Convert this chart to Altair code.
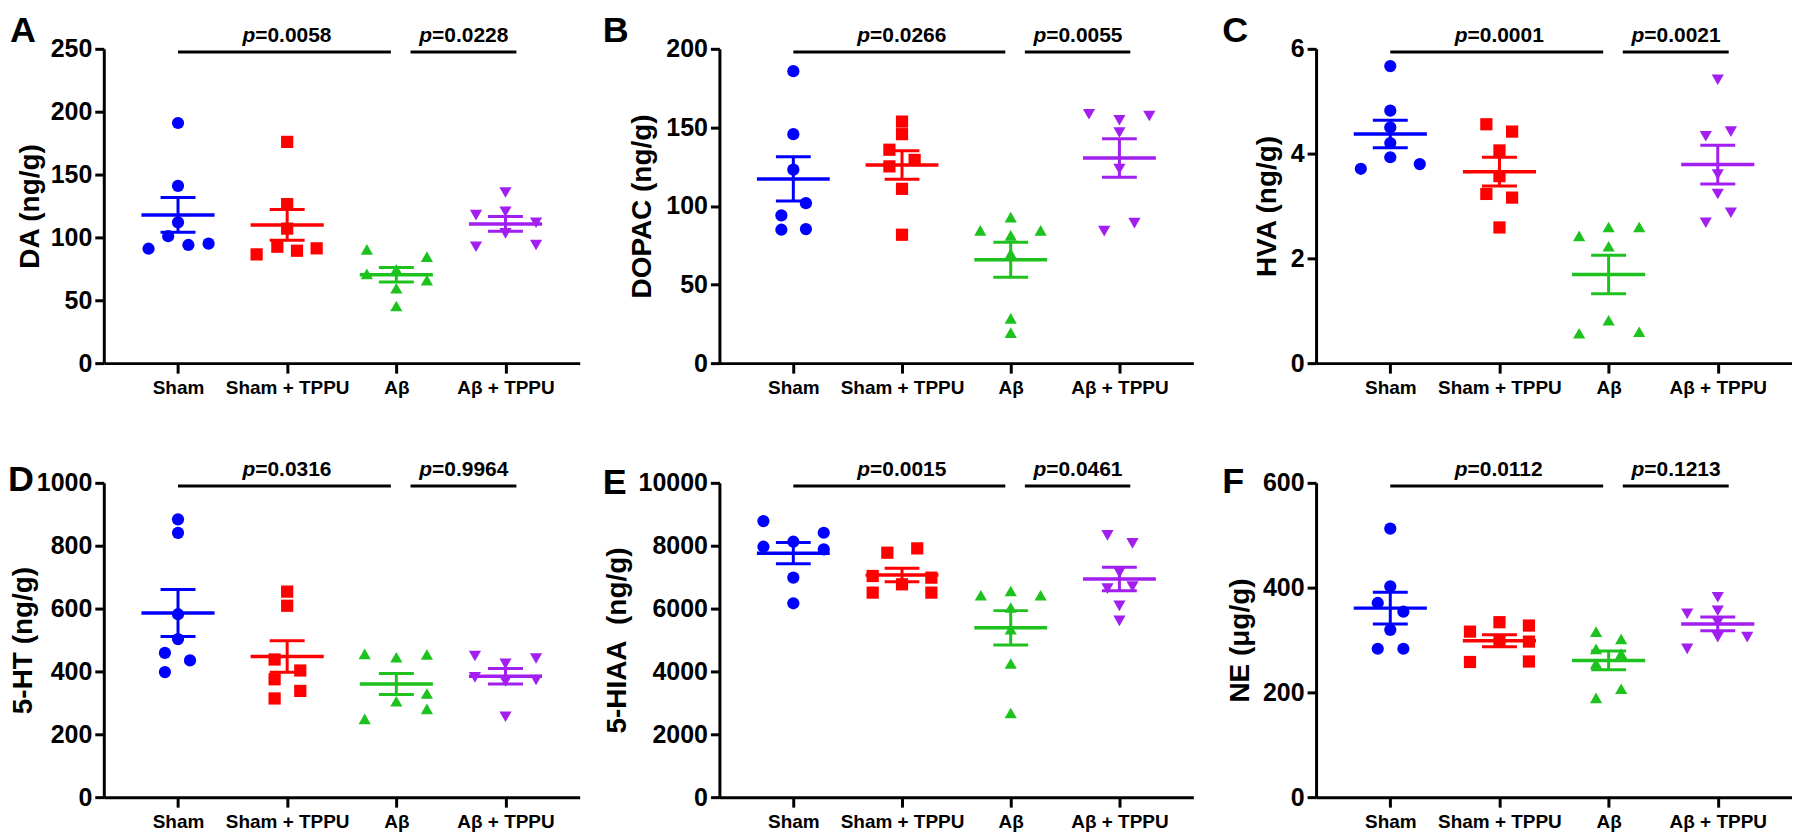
import json
import altair as alt
import pandas as pd

GROUPS = ["Sham", "Sham + TPPU", "Aβ", "Aβ + TPPU"]
COLORS = ["#0000ff", "#ff0000", "#1ec21e", "#a21ff0"]
SHAPES = ["circle", "square", "triangle-up", "triangle-down"]

PANEL_LETTERS = ["A", "B", "C", "D", "E", "F"]
Y_TITLES = ["DA (ng/g)", "DOPAC (ng/g)", "HVA (ng/g)", "5-HT (ng/g)",
            "5-HIAA\u00a0 (ng/g)", "NE (μg/g)"]
Y_MAX = [250, 200, 6, 1000, 10000, 600]
Y_STEP = [50, 50, 2, 200, 2000, 200]
P_LEFT = ["0.0058", "0.0266", "0.0001", "0.0316", "0.0015", "0.0112"]
P_RIGHT = ["0.0228", "0.0055", "0.0021", "0.9964", "0.0461", "0.1213"]

# values per group (Sham, Sham + TPPU, Aβ, Aβ + TPPU) and horizontal spread (category units)
A_values = [[191, 141, 112, 101, 91, 94, 95],
            [176, 126.5, 107, 86.5, 92.6, 89.4, 91.3],
            [90.5, 71, 74.6, 59.5, 45.5, 84.7, 66],
            [135.7, 117.7, 120.4, 103.2, 92.6, 111.6, 94]]
A_spread = [[0, 0, 0, -0.09, -0.27, 0.095, 0.28],
            [0, 0, 0, -0.28, -0.09, 0.09, 0.27],
            [-0.27, -0.27, 0, 0, 0, 0.28, 0.28],
            [0, -0.27, 0, 0, -0.27, 0.28, 0.28]]

B_values = [[185.8, 145.7, 123.1, 101.8, 94, 84.9, 85.3],
            [153.7, 145.7, 135.8, 129.3, 125.2, 110.9, 81.7],
            [92.9, 84.5, 84.5, 81.3, 69.7, 28.5, 19.4],
            [158.4, 157.3, 154.6, 146.8, 123.5, 89.1, 84]]
B_spread = [[0, 0, 0, 0.116, -0.11, -0.11, 0.116],
            [0, 0, -0.116, 0.116, -0.116, 0, 0],
            [0, -0.28, 0.275, 0, 0, 0, 0],
            [-0.28, 0.275, 0, 0, 0, 0.138, -0.14]]

C_values = [[5.67, 4.82, 4.50, 4.20, 3.93, 3.71, 3.80],
            [4.56, 4.42, 4.06, 3.57, 3.23, 3.16, 2.59],
            [2.43, 2.60, 2.60, 2.23, 0.82, 0.57, 0.60],
            [5.41, 4.33, 4.42, 3.60, 3.23, 2.68, 2.87]]
C_spread = [[0, 0, 0, 0, 0, -0.27, 0.27],
            [-0.12, 0.116, 0, 0, -0.12, 0.116, 0],
            [-0.27, 0, 0.28, 0, 0, -0.27, 0.28],
            [0, -0.11, 0.12, 0, 0, -0.11, 0.12]]

D_values = [[884, 841, 582, 503, 459, 435, 398],
            [654, 609, 438, 403, 375, 338, 314],
            [456, 445, 454, 330, 305, 281, 249],
            [449, 441, 424, 381, 373, 368, 256]]
D_spread = [[0, 0, 0, 0, -0.12, 0.11, -0.12],
            [0, 0, -0.115, 0.12, -0.115, 0.12, -0.115],
            [-0.29, 0, 0.28, 0.28, 0, 0.28, -0.29],
            [-0.28, 0.28, 0, -0.28, 0.28, 0, 0]]

E_values = [[8783, 8413, 8127, 7968, 7884, 6984, 6169],
            [7915, 7778, 7037, 6508, 6984, 6508, 6772],
            [6423, 6423, 6561, 6032, 5344, 4254, 2677],
            [8328, 8074, 7143, 6635, 6698, 6085, 5608]]
E_spread = [[-0.275, 0.28, 0, -0.275, 0.28, 0, 0],
            [0.14, -0.135, -0.27, -0.27, 0.27, 0.27, 0],
            [-0.275, 0.275, 0, 0, 0, 0, 0],
            [-0.11, 0.12, 0, -0.11, 0.12, 0, 0]]

F_values = [[512.7, 402.4, 370.7, 354.2, 319.4, 283.3, 283.3],
            [334, 316, 327.6, 299, 297, 258, 259],
            [316, 302, 283, 274, 255, 207, 189.5],
            [381.5, 356, 350, 334, 305.5, 305.5, 283]]
F_spread = [[0, 0, -0.115, 0.12, 0, -0.115, 0.12],
            [0, -0.27, 0.27, 0, 0.27, -0.27, 0.27],
            [-0.115, 0.115, -0.115, 0.115, -0.115, 0.115, -0.115],
            [0, 0, -0.28, 0, 0, 0.27, -0.28]]

VALUES = [A_values, B_values, C_values, D_values, E_values, F_values]
SPREAD = [A_spread, B_spread, C_spread, D_spread, E_spread, F_spread]

FONT = "Liberation Sans"
PANEL_W = [477, 475, 477, 477, 475, 477]
PANEL_H = 315
LETTER_DX = [-94, -117, -94, -96, -117, -94]
LETTER_DY = [-7, -7, -7, 8, 11, 10]
TITLE_X = [-73, -77, -49, -80, -102, -76]

label_expr = json.dumps(GROUPS) + "[datum.value]"


def make_panel(k):
    rows = []
    for gi, (vals, offs) in enumerate(zip(VALUES[k], SPREAD[k])):
        for v, o in zip(vals, offs):
            rows.append({"group": GROUPS[gi], "gi": gi, "value": v, "off": o})
    df = pd.DataFrame(rows)
    ymax = Y_MAX[k]

    xs = alt.Scale(domain=[-0.68, 3.68], nice=False, zero=False)
    ys = alt.Scale(domain=[0, ymax], nice=False)
    xaxis = alt.Axis(values=[0, 1, 2, 3], labelExpr=label_expr, title=None,
                     tickSize=10, labelFontSize=19, labelPadding=5,
                     labelOverlap=False, labelFlush=False)
    yaxis = alt.Axis(values=list(range(0, ymax + 1, Y_STEP[k])), format="d",
                     title=Y_TITLES[k], tickSize=9, labelFontSize=25,
                     labelPadding=3, titleFontSize=28, titleX=TITLE_X[k],
                     titleBaseline="middle")
    color = alt.Color("group:N", scale=alt.Scale(domain=GROUPS, range=COLORS),
                      legend=None)

    base = alt.Chart(df)
    pts = base.transform_calculate(xp="datum.gi + datum.off").mark_point(
        filled=True, size=150, opacity=1).encode(
        x=alt.X("xp:Q", scale=xs, axis=xaxis),
        y=alt.Y("value:Q", scale=ys, axis=yaxis),
        color=color,
        shape=alt.Shape("group:N", scale=alt.Scale(domain=GROUPS, range=SHAPES),
                        legend=None),
    )

    stats = base.transform_aggregate(
        m="mean(value)", se="stderr(value)", groupby=["group", "gi"]
    ).transform_calculate(
        lo="datum.m - datum.se", hi="datum.m + datum.se",
        ml="datum.gi - 0.335", mr="datum.gi + 0.335",
        cl="datum.gi - 0.16", cr="datum.gi + 0.16",
    )
    mean_r = stats.mark_rule(strokeWidth=3.5).encode(
        x=alt.X("ml:Q", scale=xs, axis=xaxis), x2="mr:Q",
        y=alt.Y("m:Q", scale=ys, axis=yaxis), color=color)
    sem_v = stats.mark_rule(strokeWidth=3).encode(
        x=alt.X("gi:Q", scale=xs, axis=xaxis),
        y=alt.Y("lo:Q", scale=ys, axis=yaxis), y2="hi:Q", color=color)
    cap_hi = stats.mark_rule(strokeWidth=3).encode(
        x=alt.X("cl:Q", scale=xs, axis=xaxis), x2="cr:Q",
        y=alt.Y("hi:Q", scale=ys, axis=yaxis), color=color)
    cap_lo = stats.mark_rule(strokeWidth=3).encode(
        x=alt.X("cl:Q", scale=xs, axis=xaxis), x2="cr:Q",
        y=alt.Y("lo:Q", scale=ys, axis=yaxis), color=color)

    pdf = pd.DataFrame({
        "x1": [0, 2.13], "x2": [1.95, 3.1],
        "yl": [0.99 * ymax] * 2,
        "xc": [1.0, 2.62], "yt": [1.022 * ymax] * 2,
        "p": ["p", "p"],
        "val": ["=" + P_LEFT[k], "=" + P_RIGHT[k]],
    })
    pb = alt.Chart(pdf)
    plines = pb.mark_rule(strokeWidth=3, color="black").encode(
        x=alt.X("x1:Q", scale=xs, axis=xaxis), x2="x2:Q",
        y=alt.Y("yl:Q", scale=ys, axis=yaxis))
    ptxt = pb.mark_text(fontSize=21, fontWeight="bold", fontStyle="italic",
                        align="right", baseline="alphabetic", dx=-32,
                        color="black", font=FONT).encode(
        x=alt.X("xc:Q", scale=xs, axis=xaxis),
        y=alt.Y("yt:Q", scale=ys, axis=yaxis), text="p:N")
    vtxt = pb.mark_text(fontSize=21, fontWeight="bold", align="left",
                        baseline="alphabetic", dx=-32, color="black",
                        font=FONT).encode(
        x=alt.X("xc:Q", scale=xs, axis=xaxis),
        y=alt.Y("yt:Q", scale=ys, axis=yaxis), text="val:N")

    letter = alt.Chart(pd.DataFrame({"t": [PANEL_LETTERS[k]]})).mark_text(
        fontSize=36, fontWeight="bold", align="left", baseline="alphabetic",
        color="black", font=FONT).encode(
        x=alt.value(LETTER_DX[k]), y=alt.value(LETTER_DY[k]), text="t:N")

    return alt.layer(pts, mean_r, sem_v, cap_hi, cap_lo, plines, ptxt, vtxt,
                     letter).properties(width=PANEL_W[k], height=PANEL_H)


def spacer(w):
    return alt.Chart(pd.DataFrame({"a": [0]})).mark_point(opacity=0).encode(
        x=alt.value(0), y=alt.value(0)).properties(width=w, height=PANEL_H)


panels = [make_panel(k) for k in range(6)]
cells = [panels[0], spacer(140), panels[1], spacer(123), panels[2],
         panels[3], spacer(140), panels[4], spacer(123), panels[5]]

chart = alt.concat(*cells, columns=5, spacing={"row": 120, "column": 0},
                   bounds="flush", align="each").properties(
    padding={"left": 0, "top": 4, "right": 0, "bottom": 0}
).configure(font=FONT).configure_view(stroke=None).configure_axis(
    grid=False, domainColor="black", domainWidth=3, tickColor="black",
    tickWidth=3, labelColor="black", titleColor="black",
    labelFontWeight="bold", titleFontWeight="bold", labelFont=FONT,
    titleFont=FONT)

chart.save("out.html", embed_options={"renderer": "svg", "actions": False})
